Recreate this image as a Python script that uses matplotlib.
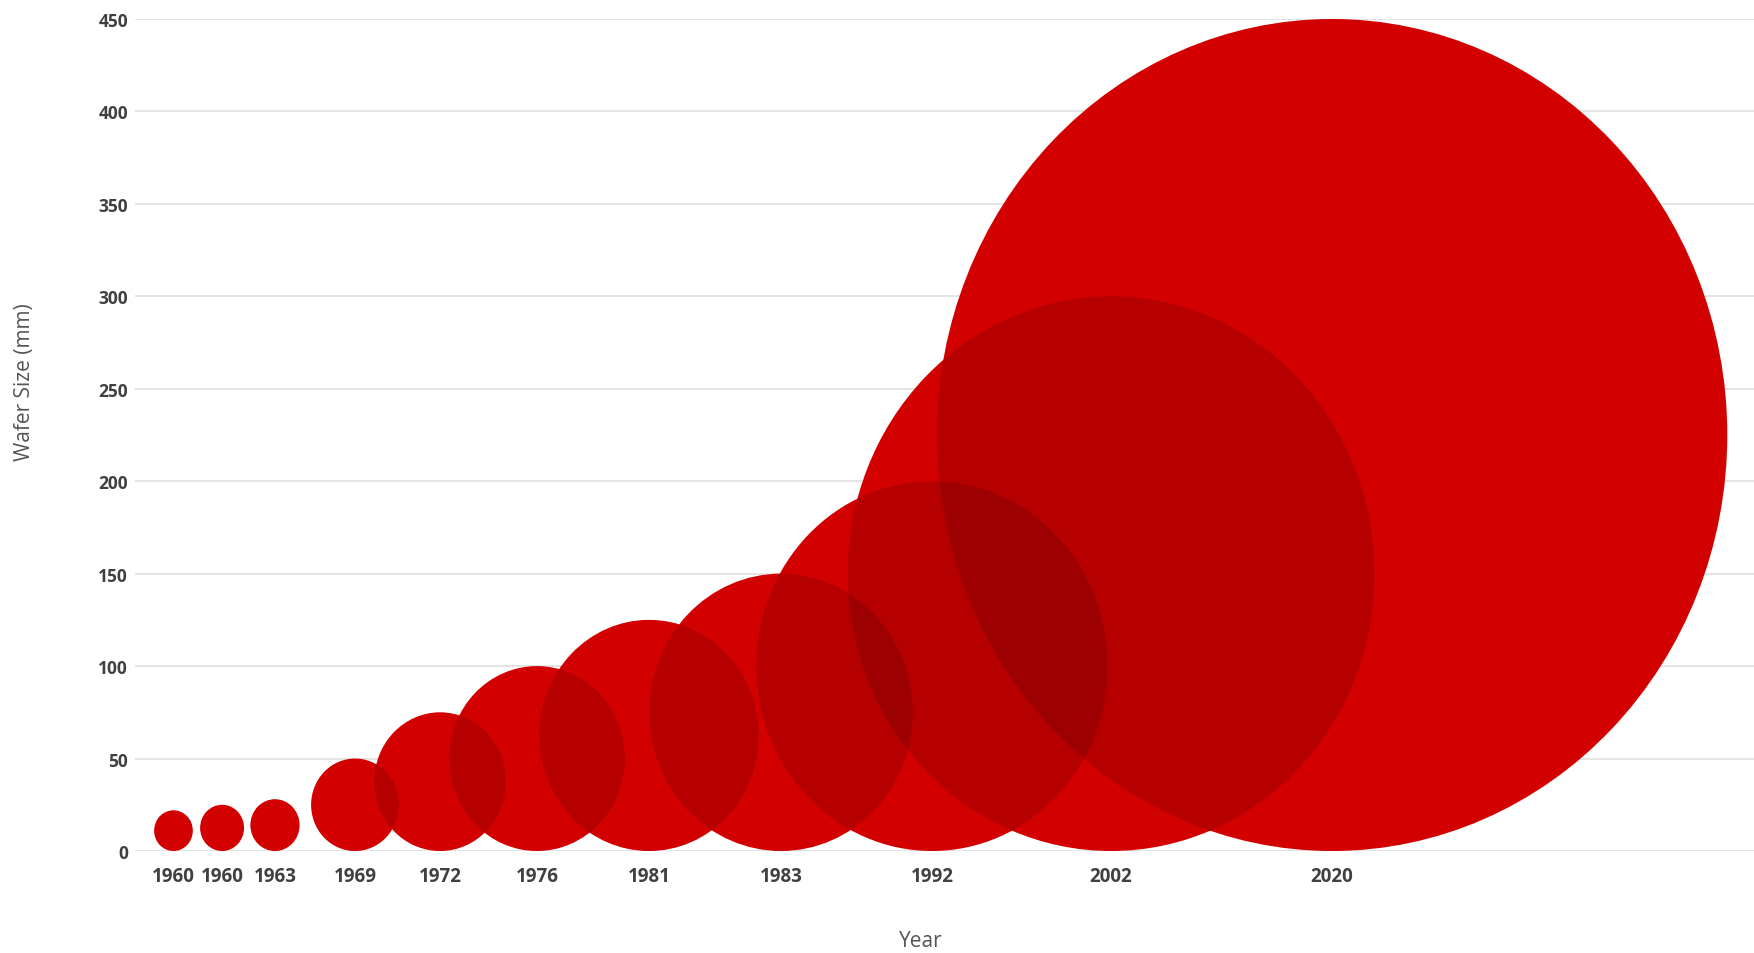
import matplotlib
matplotlib.use("Agg")
import matplotlib.pyplot as plt
from matplotlib.patches import Ellipse

# data
years = ["1960", "1960", "1963", "1969", "1972", "1976", "1981", "1983", "1992", "2002", "2020"]
wafer_mm = [22, 25, 28, 50, 75, 100, 125, 150, 200, 300, 450]
x_vals = [20.8, 47.1, 75.7, 119.0, 165.0, 217.4, 278.0, 349.4, 431.0, 527.9, 647.4]
y_ticks = [0, 50, 100, 150, 200, 250, 300, 350, 400, 450]

W, H = 1754, 954
fig = plt.figure(figsize=(W / 100, H / 100), dpi=100)
ax = fig.add_axes([135 / W, (H - 852) / H, (W - 135) / W, (852 - 20) / H])

ax.set_xlim(0, 875.6)
ax.set_ylim(0, 450)

# light horizontal grid, no spines / tick marks
for s in ax.spines.values():
    s.set_visible(False)
ax.set_yticks(y_ticks)
ax.yaxis.grid(True, color="#e4e4e4", linewidth=1.4, zorder=0)
ax.set_axisbelow(True)
ax.tick_params(axis="both", length=0)
ax.tick_params(axis="y", pad=5)
ax.tick_params(axis="x", pad=11)

# bubbles touch the zero line: centre at size/2, diameter = size
squash = 0.95  # horizontal stretch seen in the picture
for x, s in zip(x_vals, wafer_mm):
    ax.add_patch(Ellipse((x, s / 2), s * squash, s, facecolor="#f40000",
                         edgecolor="none", zorder=2, clip_on=False))
# darken where bubbles overlap
for x, s in zip(x_vals, wafer_mm):
    ax.add_patch(Ellipse((x, s / 2), s * squash, s, facecolor="black",
                         alpha=0.132, edgecolor="none", zorder=3, clip_on=False))

ax.set_xticks(x_vals, labels=years)
for lab in ax.get_xticklabels():
    lab.set_fontfamily("Open Sans")
    lab.set_fontweight("bold")
    lab.set_fontsize(13.5)
    lab.set_color("#404040")
for lab in ax.get_yticklabels():
    lab.set_fontfamily("Open Sans")
    lab.set_fontweight("bold")
    lab.set_fontsize(12.5)
    lab.set_color("#404040")

fig.text(25 / W, 1 - 382 / H, "Wafer Size (mm)", rotation=90, ha="center", va="center",
         fontsize=15, color="#555555", family="Open Sans")
fig.text(921 / W, 1 - 942 / H, "Year", ha="center", va="center",
         fontsize=15, color="#555555", family="Open Sans")

fig.savefig("out.png", dpi=100, facecolor="white")
